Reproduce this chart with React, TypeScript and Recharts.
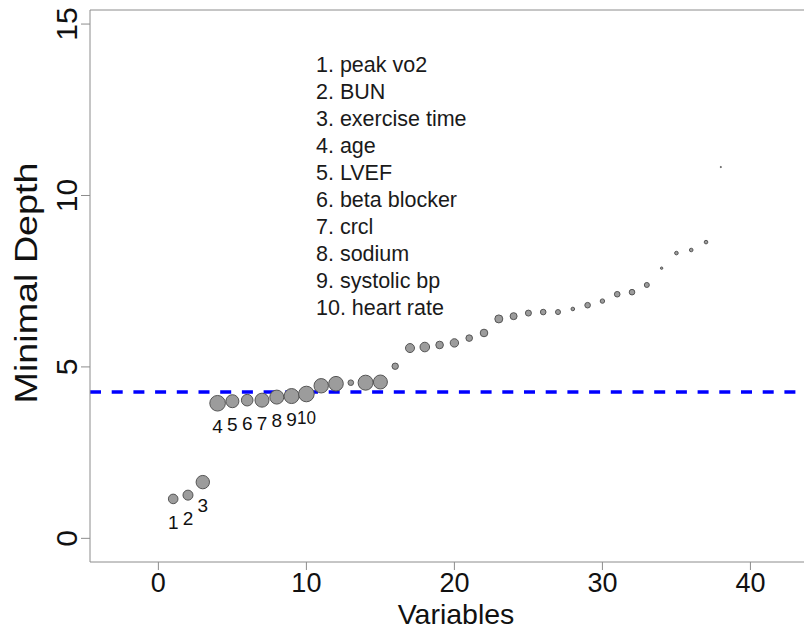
import React from "react";
import {
  ScatterChart,
  Scatter,
  XAxis,
  YAxis,
  ReferenceLine,
} from "recharts";

// variable rank on the x axis
const variableRank = [
  1, 2, 3, 4, 5, 6, 7, 8, 9, 10, 11, 12, 13, 14, 15, 16, 17, 18, 19, 20, 21,
  22, 23, 24, 25, 26, 27, 28, 29, 30, 31, 32, 33, 34, 35, 36, 37, 38,
];

const minimalDepth = [
  1.15, 1.26, 1.64, 3.94, 4.0, 4.03, 4.03, 4.12, 4.15, 4.21, 4.45, 4.51, 4.54,
  4.54, 4.56, 5.02, 5.55, 5.58, 5.64, 5.7, 5.84, 5.99, 6.4, 6.48, 6.57, 6.6,
  6.6, 6.69, 6.8, 6.92, 7.12, 7.18, 7.39, 7.88, 8.32, 8.41, 8.64, 10.83,
];

// marker size (cex-like weight) per variable
const pointWeight = [
  5.3, 5.5, 7.2, 8.3, 7, 6.3, 7.5, 7.5, 8, 8.3, 7.7, 7.8, 3.3, 8, 7.5, 3.7, 5,
  5.3, 4.3, 4.7, 3.8, 4.3, 4.5, 4, 3.5, 3.3, 3, 2.3, 3.3, 2.7, 3.3, 3.3, 3,
  1.7, 2.3, 2.3, 2.3, 1.0,
];

const pointLabels = ["1", "2", "3", "4", "5", "6", "7", "8", "9", "10"];

const topVariables = [
  "peak vo2",
  "BUN",
  "exercise time",
  "age",
  "LVEF",
  "beta blocker",
  "crcl",
  "sodium",
  "systolic bp",
  "heart rate",
];

const xTicks = [0, 10, 20, 30, 40];
const yTicks = [0, 5, 10, 15];
const threshold = 4.27;

const X_MIN = -4.62;
const X_MAX = 44.16;
const Y_MIN = -0.69;
const Y_MAX = 15.41;

const FONT = "'Liberation Sans', Arial, Helvetica, sans-serif";
const AXIS_GRAY = "#8c8c8c";

const data = variableRank.map((x, i) => ({
  x,
  y: minimalDepth[i],
  w: pointWeight[i],
  label: pointLabels[i] || "",
}));

const DepthPoint = (props: any) => {
  const { cx, cy, payload } = props;
  if (cx == null || cy == null) return null;
  const r = Math.max(payload.w - 0.5, 0.6);
  return (
    <g>
      <circle cx={cx} cy={cy} r={r} fill="#9c9c9c" stroke="#555" strokeWidth={1} />
      {payload.label && (
        <text
          x={cx}
          y={cy + 30}
          textAnchor="middle"
          fontSize={19}
          fontFamily={FONT}
          fill="#111"
          textLength={payload.label.length > 1 ? 19 : undefined}
          lengthAdjust="spacingAndGlyphs"
        >
          {payload.label}
        </text>
      )}
    </g>
  );
};

const XTick = (props: any) => {
  const { x, y, payload } = props;
  return (
    <text x={x} y={y + 22} textAnchor="middle" fontSize={27} fontFamily={FONT} fill="#111">
      {payload.value}
    </text>
  );
};

const YTick = (props: any) => {
  const { x, y, payload } = props;
  return (
    <text
      transform={`translate(${x - 4},${y}) rotate(-90)`}
      textAnchor="middle"
      fontSize={30}
      fontFamily={FONT}
      fill="#111"
    >
      {payload.value}
    </text>
  );
};

export default function App() {
  return (
    <div style={{ position: "relative", width: 804, height: 630 }}>
      <ScatterChart
        width={804}
        height={630}
        margin={{ top: 2, right: 0, bottom: 0, left: 0 }}
      >
        <XAxis
          type="number"
          dataKey="x"
          domain={[X_MIN, X_MAX]}
          ticks={xTicks}
          allowDataOverflow
          height={76}
          tickSize={8}
          tickMargin={0}
          stroke={AXIS_GRAY}
          tick={<XTick />}
          label={{
            content: () => (
              <text
                x={448}
                y={616}
                textAnchor="middle"
                fontSize={28.5}
                fontFamily={FONT}
                fill="#111"
              >
                Variables
              </text>
            ),
          }}
        />
        <YAxis
          type="number"
          dataKey="y"
          domain={[Y_MIN, Y_MAX]}
          ticks={yTicks}
          allowDataOverflow
          width={82}
          tickSize={9}
          tickMargin={0}
          stroke={AXIS_GRAY}
          tick={<YTick />}
          label={{
            content: () => (
              <text
                transform="translate(29,275) rotate(-90)"
                textAnchor="middle"
                fontSize={32}
                fontFamily={FONT}
                fill="#111"
                textLength={241}
                lengthAdjust="spacingAndGlyphs"
              >
                Minimal Depth
              </text>
            ),
          }}
        />
        <ReferenceLine y={Y_MAX} stroke={AXIS_GRAY} strokeWidth={1} />
        <ReferenceLine
          y={threshold}
          stroke="#0000ff"
          strokeWidth={3.5}
          strokeDasharray="11 10.7"
        />
        <Scatter data={data} shape={<DepthPoint />} isAnimationActive={false} />
      </ScatterChart>
      <div
        style={{
          position: "absolute",
          left: 308,
          top: 44,
          fontFamily: FONT,
          fontSize: 21.5,
          lineHeight: "27px",
          color: "#1a1a1a",
          whiteSpace: "nowrap",
        }}
      >
        {topVariables.map((name, i) => (
          <div key={name}>{`${i + 1}. ${name}`}</div>
        ))}
      </div>
    </div>
  );
}
